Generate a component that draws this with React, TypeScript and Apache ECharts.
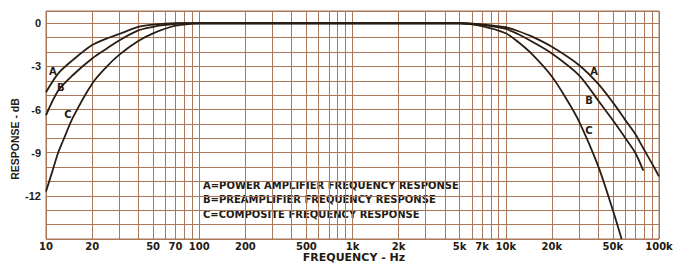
import React, { useEffect, useRef } from "react";
import * as echarts from "echarts";

// ---- data ----
const freqA = [10, 12, 15, 20, 25, 30, 40, 50, 60, 70, 100, 1000, 5000, 7000, 10000, 12000, 15000, 20000, 30000, 40000, 50000, 60000, 70000, 80000, 90000, 100000];
const respA = [-4.8, -3.5, -2.55, -1.52, -1.05, -0.75, -0.26, -0.1, -0.03, 0, 0, 0, 0, -0.08, -0.28, -0.54, -0.95, -1.64, -2.9, -4.2, -5.5, -6.7, -7.7, -8.8, -9.75, -10.65];

const freqB = [10, 12, 15, 20, 25, 30, 40, 50, 60, 80, 100, 1000, 5000, 7000, 10000, 12000, 15000, 20000, 30000, 40000, 50000, 60000, 70000, 79000];
const respB = [-6.4, -4.7, -3.6, -2.45, -1.75, -1.2, -0.5, -0.25, -0.12, 0, 0, 0, 0, -0.12, -0.4, -0.75, -1.3, -2.1, -3.6, -5.35, -6.75, -7.95, -9.0, -10.25];

const freqC = [10, 11, 12, 13, 15, 20, 25, 30, 40, 50, 70, 90, 100, 1000, 5000, 7000, 10000, 12000, 15000, 20000, 25000, 30000, 40000, 50000, 57000];
const respC = [-11.7, -10.3, -9.0, -8.1, -6.55, -4.2, -3.0, -2.2, -1.24, -0.7, -0.17, -0.03, 0, 0, 0, -0.2, -0.7, -1.29, -2.2, -3.7, -5.3, -6.8, -9.9, -13.0, -15.0];

// curve letter tags: [frequency, dB]
const tagsA = [[11.1, -3.33], [37700, -3.38]];
const tagsB = [[12.5, -4.45], [34900, -5.36]];
const tagsC = [[13.9, -6.33], [34900, -7.45]];

const decades = [10, 100, 1000, 10000];
const gridMultipliers = [1, 2, 3, 4, 5, 6, 7, 8, 9];
const labelFreqs = [10, 20, 50, 70, 100, 200, 500, 1000, 2000, 5000, 7000, 10000, 20000, 50000, 100000];
const yLabels = [0, -3, -6, -9, -12];

const legendLines = [
  "A=POWER AMPLIFIER FREQUENCY RESPONSE",
  "B=PREAMPLIFIER FREQUENCY RESPONSE",
  "C=COMPOSITE FREQUENCY RESPONSE",
];

const gridFreqs: number[] = [];
decades.forEach((d) => gridMultipliers.forEach((m) => gridFreqs.push(d * m)));
gridFreqs.push(100000);

const ink = "#241a12";
const gridColor = "#a9785a";
const curveColor = "#2a1d14";

function fmtFreq(v: number): string {
  if (v >= 1000) return Math.round(v / 1000) + "k";
  return String(Math.round(v));
}

function pairs(f: number[], r: number[]) {
  return f.map((x, i) => [x, r[i]]);
}

function tagPoints(tags: number[][], letter: string) {
  return {
    symbol: "circle",
    symbolSize: 1,
    itemStyle: { color: "rgba(0,0,0,0)" },
    label: {
      show: true,
      position: "inside",
      formatter: letter,
      color: ink,
      fontFamily: "DejaVu Sans",
      fontWeight: "bold",
      fontSize: 10,
    },
    data: tags.map((t) => ({ coord: t })),
  };
}

function makeSeries(f: number[], r: number[], tags: number[][], letter: string) {
  return {
    type: "line",
    data: pairs(f, r),
    showSymbol: false,
    smooth: 0.3,
    lineStyle: { color: curveColor, width: 1.8 },
    markPoint: tagPoints(tags, letter),
    silent: true,
  };
}

export default function App() {
  const ref = useRef<HTMLDivElement>(null);
  useEffect(() => {
    const chart = echarts.init(ref.current!, null, { renderer: "svg" });
    const option: any = {
      animation: false,
      backgroundColor: "#ffffff",
      grid: {
        left: 46,
        right: 21,
        top: 11,
        bottom: 24,
        show: true,
        borderColor: "#a0705a",
        borderWidth: 1,
        backgroundColor: "transparent",
      },
      xAxis: {
        type: "log",
        logBase: 10,
        min: 10,
        max: 100000,
        axisLine: { show: false },
        axisTick: { show: false, customValues: gridFreqs },
        axisLabel: {
          customValues: labelFreqs,
          formatter: (v: number) => fmtFreq(v),
          color: ink,
          fontFamily: "DejaVu Sans",
          fontWeight: "bold",
          fontSize: 10,
          margin: 2,
        },
        splitLine: { show: true, lineStyle: { color: gridColor, width: 1 } },
      },
      yAxis: {
        type: "value",
        min: -15,
        max: 0.85,
        interval: 1,
        axisLine: { show: false },
        axisTick: { show: false },
        axisLabel: {
          formatter: (v: number) => (yLabels.indexOf(Math.round(v * 100) / 100) >= 0 ? String(v) : ""),
          color: ink,
          fontFamily: "Liberation Sans",
          fontWeight: "bold",
          fontSize: 11,
          margin: 5,
        },
        splitLine: { show: true, lineStyle: { color: gridColor, width: 1 } },
      },
      graphic: [
        {
          type: "text",
          x: 15,
          y: 139,
          rotation: Math.PI / 2,
          style: {
            text: "RESPONSE - dB",
            fill: ink,
            fontFamily: "Liberation Sans",
            fontWeight: "bold",
            fontSize: 10.5,
            textAlign: "center",
            textVerticalAlign: "middle",
          },
        },
        {
          type: "text",
          x: 354,
          y: 257,
          style: {
            text: "FREQUENCY - Hz",
            fill: ink,
            fontFamily: "DejaVu Sans",
            fontWeight: "bold",
            fontSize: 11,
            textAlign: "center",
            textVerticalAlign: "middle",
          },
        },
        ...legendLines.map((t, i) => ({
          type: "text",
          x: 203,
          y: 185 + i * 14.5,
          style: {
            text: t,
            fill: ink,
            fontFamily: "DejaVu Sans",
            fontWeight: "bold",
            fontSize: 10,
            textAlign: "left",
            textVerticalAlign: "middle",
          },
        })),
      ],
      series: [
        makeSeries(freqA, respA, tagsA, "A"),
        makeSeries(freqB, respB, tagsB, "B"),
        makeSeries(freqC, respC, tagsC, "C"),
      ],
    };
    chart.setOption(option);
    return () => chart.dispose();
  }, []);
  return (
    <div
      ref={ref}
      style={{ position: "fixed", left: 0, top: 0, width: 680, height: 263, background: "#fff" }}
    />
  );
}
